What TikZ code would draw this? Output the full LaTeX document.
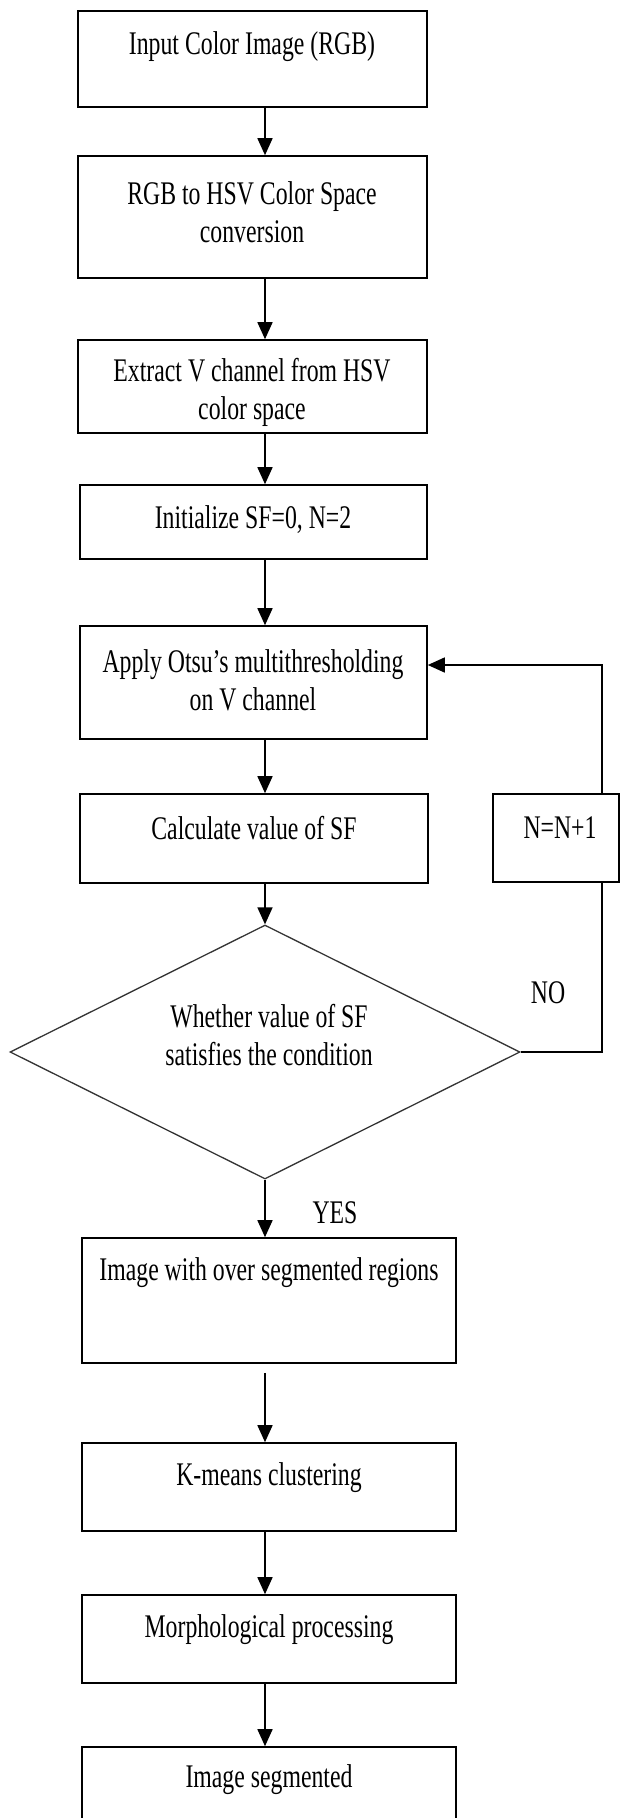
\documentclass[tikz,border=0pt]{standalone}
\usepackage{fontspec}
\setmainfont{Liberation Serif}
\usetikzlibrary{arrows.meta,shapes.geometric}
\newcommand{\sq}[1]{\scalebox{0.72}[1]{#1}}
\tikzset{
  box/.style={draw, line width=1.6pt, inner sep=0pt},
  txt/.style={align=center, font=\fontsize{33}{38}\selectfont, inner sep=0pt},
  arr/.style={line width=1.6pt, -{Triangle[length=17pt,width=15pt]}},
  lin/.style={line width=1.6pt},
}
\begin{document}
\begin{tikzpicture}[x=1pt,y=-1pt]
\useasboundingbox (0,0) rectangle (621,1818);
% steps
\node[box, minimum width=349pt, minimum height=96pt] (b1) at (252.5,59) {};
\node[txt] (t1) at (252,47) {\sq{Input Color Image (RGB)}};
\node[box, minimum width=349pt, minimum height=122pt] (b2) at (252.5,217) {};
\node[txt] (t2) at (252,212) {\sq{RGB to HSV Color Space}\\\sq{conversion}};
\node[box, minimum width=349pt, minimum height=93pt] (b3) at (252.5,386.5) {};
\node[txt] (t3) at (252,392) {\sq{Extract V channel from HSV}\\\sq{color space}};
\node[box, minimum width=347pt, minimum height=74pt] (b4) at (253.5,522) {};
\node[txt] (t4) at (253,520) {\sq{Initialize SF=0, N=2}};
\node[box, minimum width=347pt, minimum height=113pt] (b5) at (253.5,682.5) {};
\node[txt] (t5) at (253,680) {\sq{Apply Otsu’s multithresholding}\\\sq{on V channel}};
\node[box, minimum width=348pt, minimum height=89pt] (b6) at (254,838.5) {};
\node[txt] (t6) at (254,828) {\sq{Calculate value of SF}};
\node[box, minimum width=126pt, minimum height=88pt] (n) at (556,838) {};
\node[txt] (tn) at (560,828) {\sq{N=N+1}};
% decision
\node[draw, diamond, line width=1.3pt, draw=black!80, inner sep=0pt,
      minimum width=510pt, minimum height=254pt] (d) at (265,1052) {};
\node[txt] (td) at (269,1035) {\sq{Whether value of SF}\\\sq{satisfies the condition}};
\node[txt] (no) at (548,993) {\sq{NO}};
\node[txt] (yes) at (335,1213) {\sq{YES}};
\node[box, minimum width=374pt, minimum height=125pt] (b8) at (269,1300.5) {};
\node[txt] (t8) at (269,1273) {\sq{Image with over segmented regions}};
\node[box, minimum width=374pt, minimum height=88pt] (b9) at (269,1487) {};
\node[txt] (t9) at (269,1478) {\sq{K-means clustering}};
\node[box, minimum width=374pt, minimum height=88pt] (b10) at (269,1639) {};
\node[txt] (t10) at (269,1630) {\sq{Morphological processing}};
\node[box, minimum width=374pt, minimum height=106pt] (b11) at (269,1800) {};
\node[txt] (t11) at (269,1780) {\sq{Image segmented}};
% flow
\draw[arr] (b1.south -| d.north) -- (b2.north -| d.north);
\draw[arr] (b2.south -| d.north) -- (b3.north -| d.north);
\draw[arr] (b3.south -| d.north) -- (b4.north -| d.north);
\draw[arr] (b4.south -| d.north) -- (b5.north -| d.north);
\draw[arr] (b5.south -| d.north) -- (b6.north -| d.north);
\draw[arr] (b6.south -| d.north) -- (d.north);
\draw[arr] (d.south) -- (b8.north -| d.south);
\draw[arr] ([yshift=-9pt]b8.south -| d.north) -- (b9.north -| d.north);
\draw[arr] (b9.south -| d.north) -- (b10.north -| d.north);
\draw[arr] (b10.south -| d.north) -- (b11.north -| d.north);
% loop back
\coordinate (fbb) at (602,1052);
\coordinate (fbt) at (602,665);
\draw[lin] (d.east) -- (fbb) -- (fbb |- n.south);
\draw[arr] (fbb |- n.north) -- (fbt) -- (fbt -| b5.east);
\end{tikzpicture}
\end{document}
